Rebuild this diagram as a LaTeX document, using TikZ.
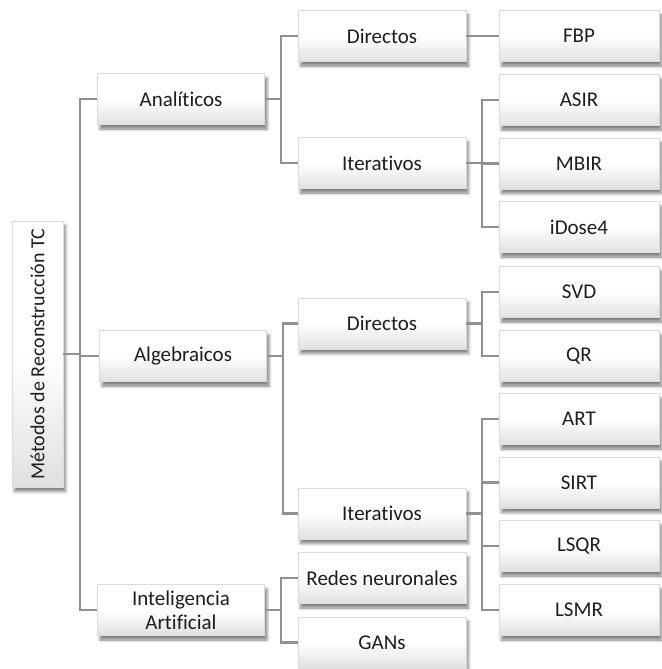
\documentclass[tikz,border=0pt]{standalone}
\usepackage{fontspec}
\setmainfont{Carlito}[Ligatures={NoCommon}]
\usetikzlibrary{shadows.blur}

\definecolor{linkgray}{RGB}{145,145,145}
\definecolor{textgray}{RGB}{30,30,30}
\definecolor{boxedge}{RGB}{220,220,220}
\definecolor{boxbottom}{RGB}{224,224,224}

\tikzset{
  box/.style={
    rectangle, draw=boxedge, line width=0.5pt,
    top color=white, bottom color=boxbottom, middle color=white,
    text=textgray, align=center,
    font=\fontsize{21}{24}\selectfont,
    inner sep=0pt,
    blur shadow={shadow xshift=2.5pt, shadow yshift=-4.5pt,
                 shadow blur radius=3pt, shadow opacity=50}
  },
  rootbox/.style={box, rotate=90, minimum width=266pt, minimum height=51pt,
    font=\fontsize{20}{24}\selectfont},
  lvlone/.style={box, minimum width=167pt, minimum height=51pt},
  lvltwo/.style={box, minimum width=168pt, minimum height=51pt},
  lvlthree/.style={box, minimum width=160pt, minimum height=51pt},
  link/.style={draw=linkgray, line width=2.2pt}
}

\begin{document}
\begin{tikzpicture}[x=1pt, y=-1pt]
\useasboundingbox (0,0) rectangle (661,669);

% root
\node[rootbox] (root) at (37.5,354) {Métodos de Reconstrucción TC};

% first level
\node[lvlone] (ana) at (181,99)  {Analíticos};
\node[lvlone] (alg) at (183,356) {Algebraicos};
\node[lvlone] (ia)  at (181,610) {Inteligencia\\Artificial};

% second level
\node[lvltwo] (adir) at (382,36)    {Directos};
\node[lvltwo] (aite) at (382,163)   {Iterativos};
\node[lvltwo] (gdir) at (382,323.5) {Directos};
\node[lvltwo] (gite) at (382,513.5) {Iterativos};
\node[lvltwo] (red)  at (382,578)   {Redes neuronales};
\node[lvltwo] (gan)  at (382,642.5) {GANs};

% third level
\node[lvlthree] (fbp)   at (579,36)  {FBP};
\node[lvlthree] (asir)  at (579,100) {ASIR};
\node[lvlthree] (mbir)  at (579,163.5) {MBIR};
\node[lvlthree] (idose) at (579,227) {iDose4};
\node[lvlthree] (svd)   at (579,292) {SVD};
\node[lvlthree] (qr)    at (579,356) {QR};
\node[lvlthree] (art)   at (579,419) {ART};
\node[lvlthree] (sirt)  at (579,482.5) {SIRT};
\node[lvlthree] (lsqr)  at (579,546) {LSQR};
\node[lvlthree] (lsmr)  at (579,610) {LSMR};

% root to first level
\path[link] (root.south) -- ++(17.5,0);
\path[link] (ana.west) -- ++(-17,0) |- (ia.west);
\path[link] (alg.west) -- ++(-20,0);

% Analíticos
\path[link] (ana.east) -- ++(17,0);
\path[link] (adir.west) -- ++(-17,0) |- (aite.west);
\path[link] (adir.east) -- (fbp.west);
\path[link] (aite.east) -- ++(16.5,0);
\path[link] (asir.west) -- ++(-16.5,0) |- (idose.west);
\path[link] (mbir.west) -- ++(-16.5,0);

% Algebraicos
\path[link] (alg.east) -- ++(15,0);
\path[link] (gdir.west) -- ++(-15,0) |- (gite.west);
\path[link] (gdir.east) -- ++(16.5,0);
\path[link] (svd.west) -- ++(-16.5,0) |- (qr.west);
\path[link] (gite.east) -- ++(16.5,0);
\path[link] (art.west) -- ++(-16.5,0) |- (lsmr.west);
\path[link] (sirt.west) -- ++(-16.5,0);
\path[link] (lsqr.west) -- ++(-16.5,0);

% Inteligencia Artificial
\path[link] (ia.east) -- ++(17,0);
\path[link] (red.west) -- ++(-17,0) |- (gan.west);
\end{tikzpicture}
\end{document}
